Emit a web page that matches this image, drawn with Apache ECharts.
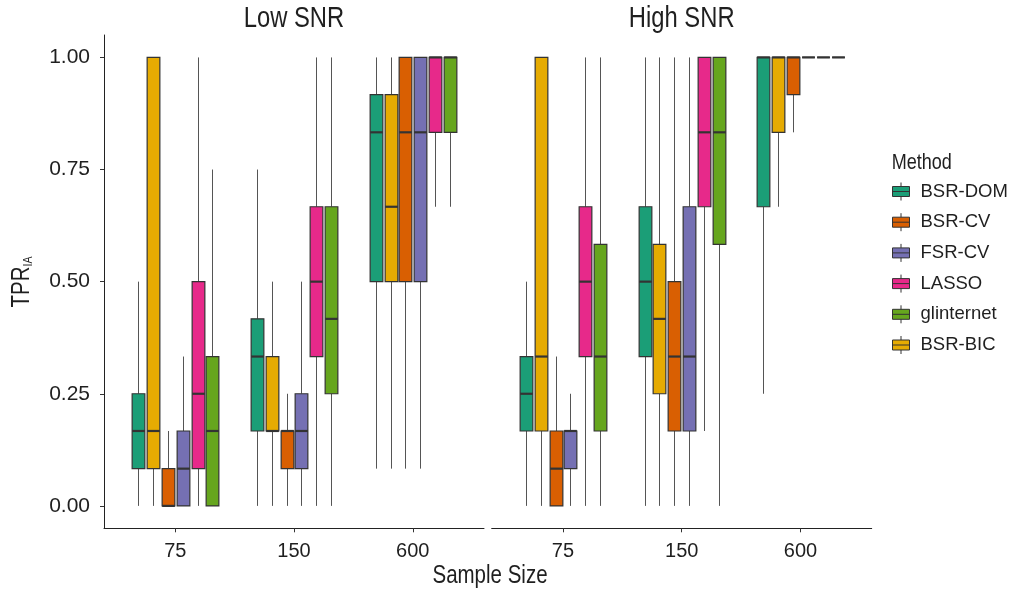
<!DOCTYPE html>
<html>
<head>
<meta charset="utf-8">
<script src="https://cdn.jsdelivr.net/npm/echarts@6/dist/echarts.min.js"></script>
<style>
html, body { margin: 0; padding: 0; background: #fff; }
#chart { width: 1009px; height: 595px; }
</style>
</head>
<body>
<div id="chart"></div>
<script>
const sampleSizes = ['75', '150', '600'];
const methods = ['BSR-DOM', 'BSR-BIC', 'BSR-CV', 'FSR-CV', 'LASSO', 'glinternet'];
const legendOrder = ['BSR-DOM', 'BSR-CV', 'FSR-CV', 'LASSO', 'glinternet', 'BSR-BIC'];
const methodColors = ['#1B9E77', '#E6AB02', '#D95F02', '#7570B3', '#E7298A', '#66A61E'];
const yTicks = [0, 0.25, 0.5, 0.75, 1];

// [min, q1, median, q3, max] for n = 75, 150, 600
const lowBsrDom = [[0, 0.083, 0.167, 0.25, 0.5], [0, 0.167, 0.333, 0.417, 0.75], [0.083, 0.5, 0.833, 0.917, 1]];
const lowBsrBic = [[0, 0.083, 0.167, 1, 1], [0, 0.167, 0.167, 0.333, 0.5], [0.083, 0.5, 0.667, 0.917, 1]];
const lowBsrCv = [[0, 0, 0, 0.083, 0.167], [0, 0.083, 0.167, 0.167, 0.25], [0.083, 0.5, 0.833, 1, 1]];
const lowFsrCv = [[0, 0, 0.083, 0.167, 0.333], [0, 0.083, 0.167, 0.25, 0.5], [0.083, 0.5, 0.833, 1, 1]];
const lowLasso = [[0, 0.083, 0.25, 0.5, 1], [0, 0.333, 0.5, 0.667, 1], [0.667, 0.833, 1, 1, 1]];
const lowGlint = [[0, 0, 0.167, 0.333, 0.75], [0, 0.25, 0.417, 0.667, 1], [0.667, 0.833, 1, 1, 1]];

const highBsrDom = [[0, 0.167, 0.25, 0.333, 0.5], [0, 0.333, 0.5, 0.667, 1], [0.25, 0.667, 1, 1, 1]];
const highBsrBic = [[0, 0.167, 0.333, 1, 1], [0, 0.25, 0.417, 0.583, 1], [0.667, 0.833, 1, 1, 1]];
const highBsrCv = [[0, 0, 0.083, 0.167, 0.333], [0, 0.167, 0.333, 0.5, 1], [0.833, 0.917, 1, 1, 1]];
const highFsrCv = [[0, 0.083, 0.167, 0.167, 0.25], [0, 0.167, 0.333, 0.667, 1], [1, 1, 1, 1, 1]];
const highLasso = [[0, 0.333, 0.5, 0.667, 1], [0.167, 0.667, 0.833, 1, 1], [1, 1, 1, 1, 1]];
const highGlint = [[0, 0.167, 0.333, 0.583, 1], [0, 0.583, 0.833, 1, 1], [1, 1, 1, 1, 1]];

const lowSNR = [lowBsrDom, lowBsrBic, lowBsrCv, lowFsrCv, lowLasso, lowGlint];
const highSNR = [highBsrDom, highBsrBic, highBsrCv, highFsrCv, highLasso, highGlint];

const FONT = "'Liberation Sans', Arial, sans-serif";
const TXT = '#1f1f1f';
const GRID_TOP = 35;
const GRID_H = 493.3;
// the original type is a narrow face; squeeze the big titles to match
const NARROW = 0.82;

const chart = echarts.init(document.getElementById('chart'));

// one box per method, dodged inside the category band like ggplot
function boxRenderer(k) {
  return function (params, api) {
    const band = api.size([1, 0])[0];
    const cat = api.value(0);
    const x = Math.round(api.coord([cat, 0])[0] + (k - 2.5) * band * 0.125) + 0.5;
    const half = band * 0.0535;
    const y = i => api.coord([cat, api.value(i)])[1];
    const yMin = y(1), yQ1 = y(2), yMed = y(3), yQ3 = y(4), yMax = y(5);
    return {
      type: 'group',
      children: [
        { type: 'line', shape: { x1: x, y1: yQ3, x2: x, y2: yMax }, style: { stroke: '#555', lineWidth: 1 } },
        { type: 'line', shape: { x1: x, y1: yQ1, x2: x, y2: yMin }, style: { stroke: '#555', lineWidth: 1 } },
        { type: 'rect', shape: { x: x - half, y: yQ3, width: half * 2, height: yQ1 - yQ3 },
          style: { fill: api.visual('color'), stroke: '#333', lineWidth: 1.2 } },
        { type: 'line', shape: { x1: x - half, y1: yMed, x2: x + half, y2: yMed }, style: { stroke: '#333', lineWidth: 2.2 } }
      ]
    };
  };
}

function panelSeries(panel, axisIdx) {
  return methods.map((m, k) => ({
    name: m,
    type: 'custom',
    xAxisIndex: axisIdx,
    yAxisIndex: axisIdx,
    itemStyle: { color: methodColors[k], borderColor: '#333', borderWidth: 1 },
    renderItem: boxRenderer(k),
    encode: { x: 0, y: [1, 2, 3, 4, 5] },
    data: panel[k].map((v, i) => [i].concat(v))
  }));
}

const frameX = (g) => ({
  gridIndex: g, type: 'value', min: 0, max: 1,
  axisLine: { show: true, onZero: false, lineStyle: { color: '#222', width: 1 } },
  axisTick: { show: false }, axisLabel: { show: false }, splitLine: { show: false }
});
const catX = (g) => ({
  gridIndex: g, type: 'category', data: sampleSizes,
  axisLine: { show: false, onZero: false },
  axisTick: { show: true, alignWithLabel: true, length: 4, lineStyle: { color: '#333' } },
  axisLabel: { fontFamily: FONT, fontSize: 20, color: TXT, margin: 13 },
  splitLine: { show: false }
});
const hiddenY = (g) => ({ gridIndex: g, type: 'value', min: -0.05, max: 1.05, show: false });

function bigText(text, x, y, size, align) {
  return {
    type: 'text', x: x, y: y, scaleX: NARROW,
    style: { text: text, font: size + 'px ' + FONT, fill: TXT, textAlign: align || 'center', textVerticalAlign: 'middle' }
  };
}

const option = {
  backgroundColor: '#fff',
  animation: false,
  grid: [
    { left: 104, top: GRID_TOP, width: 380, height: GRID_H, outerBoundsMode: 'none' },
    { left: 491.7, top: GRID_TOP, width: 380, height: GRID_H, outerBoundsMode: 'none' },
    { left: 115.9, top: GRID_TOP, width: 356.25, height: GRID_H, outerBoundsMode: 'none' },
    { left: 503.6, top: GRID_TOP, width: 356.25, height: GRID_H, outerBoundsMode: 'none' }
  ],
  xAxis: [frameX(0), frameX(1), catX(2), catX(3)],
  yAxis: [
    {
      gridIndex: 0, type: 'value', min: -0.05, max: 1.05,
      axisLine: { show: true, onZero: false, lineStyle: { color: '#222', width: 1 } },
      axisTick: { show: true, length: 4, customValues: yTicks, lineStyle: { color: '#333' } },
      axisLabel: { customValues: yTicks, formatter: v => v.toFixed(2), fontFamily: FONT, fontSize: 21, color: TXT, margin: 14 },
      splitLine: { show: false }
    },
    hiddenY(1), hiddenY(2), hiddenY(3)
  ],
  legend: {
    data: legendOrder,
    orient: 'vertical',
    left: 892,
    top: 180,
    padding: 0,
    itemWidth: 17,
    itemHeight: 18,
    itemGap: 7.7,
    icon: 'path://M0,4 L17,4 L17,14 L0,14 Z M0,9 L17,9 M8.5,0 L8.5,4 M8.5,14 L8.5,18',
    itemStyle: { borderColor: '#333', borderWidth: 1 },
    textStyle: { fontFamily: FONT, fontSize: 18.5, color: TXT, lineHeight: 23, padding: [0, 0, 0, 6] }
  },
  graphic: [
    bigText('Low SNR', 294, 19, 29),
    bigText('High SNR', 681.7, 19, 29),
    bigText('Sample Size', 490, 576, 25),
    bigText('Method', 891.7, 163, 22, 'left'),
    {
      type: 'text', x: 22, y: 282, rotation: Math.PI / 2, scaleX: NARROW,
      style: {
        text: '{a|TPR}{b|IA}', fill: TXT, textAlign: 'center', textVerticalAlign: 'middle',
        rich: {
          a: { fontFamily: FONT, fontSize: 25, fill: TXT },
          b: { fontFamily: FONT, fontSize: 13, fill: TXT, padding: [12, 0, 0, 0] }
        }
      }
    }
  ],
  series: panelSeries(lowSNR, 2).concat(panelSeries(highSNR, 3))
};

chart.setOption(option);
</script>
</body>
</html>
